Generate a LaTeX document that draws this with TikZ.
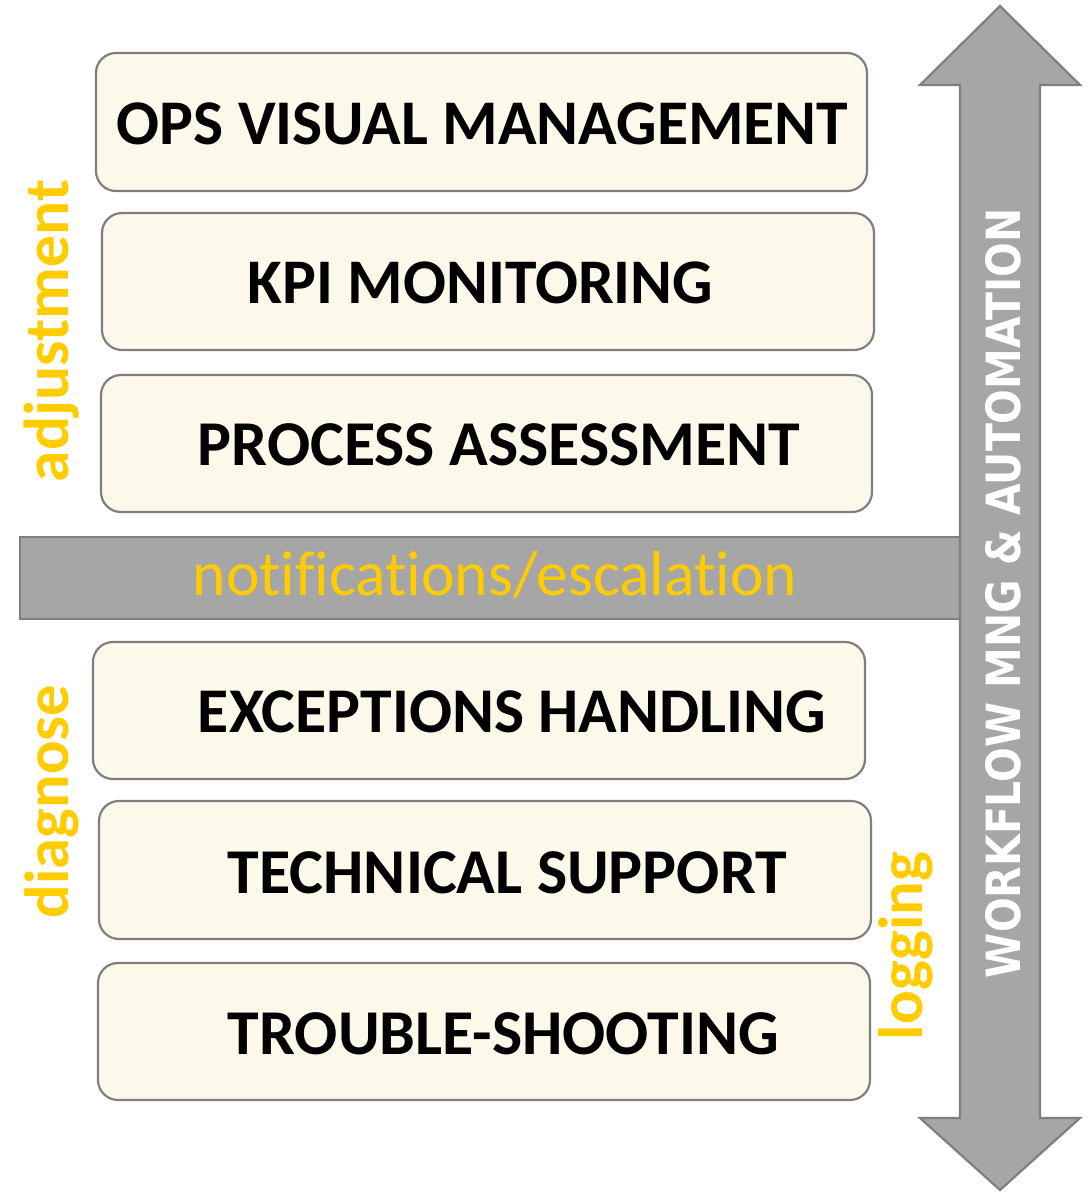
\documentclass[tikz,border=0pt]{standalone}
\usepackage{fontspec}
\setmainfont{Carlito}[Ligatures={NoCommon}]
\newfontfamily\wfont{DejaVu Sans}
\usepackage{graphicx}
\definecolor{boxfill}{HTML}{FDF9EA}
\definecolor{boxline}{HTML}{7F7F7F}
\definecolor{barfill}{HTML}{A6A6A6}
\definecolor{ylw}{HTML}{FFCC00}
\newcommand{\fitto}[2]{\resizebox{#1}{!}{#2}}
\begin{document}
\begin{tikzpicture}[x=1pt,y=-1pt,
  stage/.style={draw=boxline, line width=2.2pt, fill=boxfill, rounded corners=20pt, inner sep=0pt},
  stagetext/.style={inner sep=0pt, font=\bfseries, text=black},
  side/.style={inner sep=0pt, text=ylw, rotate=90, anchor=base, font=\bfseries},
  grayshape/.style={draw=boxline, line width=2.2pt, fill=barfill}]
\useasboundingbox[fill=white] (0,0) rectangle (1089,1192);

% boxes
\node[stage, minimum width=771pt, minimum height=138pt] (b1) at (481.5,122) {};
\node[stage, minimum width=772pt, minimum height=137pt] (b2) at (488,281.5) {};
\node[stage, minimum width=771pt, minimum height=137pt] (b3) at (486.5,443.5) {};
\node[stage, minimum width=772pt, minimum height=137pt] (b4) at (479,710.5) {};
\node[stage, minimum width=772pt, minimum height=138pt] (b5) at (485,870) {};
\node[stage, minimum width=772pt, minimum height=137pt] (b6) at (484,1031.5) {};

\node[stagetext] (t1) at (482.5,124) {\fitto{731pt}{OPS VISUAL MANAGEMENT}};
\node[stagetext] (t2) at (480.5,283) {\fitto{465pt}{KPI MONITORING}};
\node[stagetext] (t3) at (499,445) {\fitto{602pt}{PROCESS ASSESSMENT}};
\node[stagetext] (t4) at (512,712) {\fitto{628pt}{EXCEPTIONS HANDLING}};
\node[stagetext] (t5) at (507.5,873) {\fitto{559pt}{TECHNICAL SUPPORT}};
\node[stagetext] (t6) at (503.5,1034) {\fitto{551pt}{TROUBLE-SHOOTING}};

% bar
\draw[grayshape] (20,537) rectangle (960,619);
\node[inner sep=0pt, anchor=base, text=ylw] (notif) at (495,595) {\fitto{604pt}{notifications/escalation}};

% double arrow
\draw[grayshape, line join=miter] (1000,6) -- (1080,85) -- (1040,85) -- (1040,1118) -- (1080,1118)
  -- (1000,1190) -- (920,1118) -- (960,1118) -- (960,85) -- (920,85) -- cycle;
\node[inner sep=0pt, rotate=90, anchor=base, text=white] (wf) at (1020,593)
  {\resizebox{770pt}{35pt}{\wfont\bfseries WORKFLOW MNG \& AUTOMATION}};

% side labels
\node[side] (adj) at (68,331) {\fitto{302pt}{adjustment}};
\node[side] (diag) at (68,801.5) {\fitto{233pt}{diagnose}};
\node[side] (logg) at (922,946) {\fitto{188pt}{logging}};
\end{tikzpicture}
\end{document}
